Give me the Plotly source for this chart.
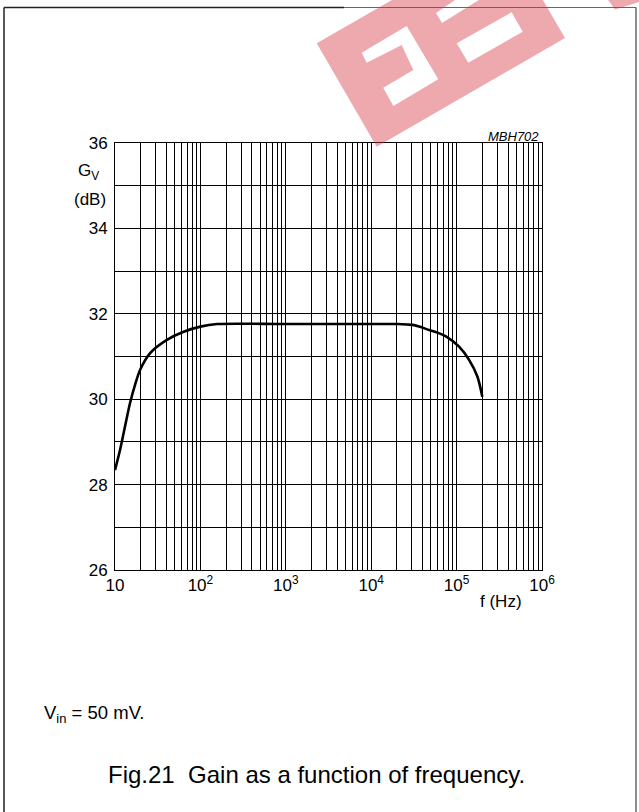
import plotly.graph_objects as go

# ---- data ----
freq_hz = [10, 11.45, 13.1, 15, 17.2, 19.7, 25.8, 40.5, 63.7, 100, 157, 1000,
           10000, 20000, 30500, 36600, 47900, 59800, 75000, 107000, 140000,
           175000, 200000]
gain_db = [28.34, 28.81, 29.36, 29.91, 30.34, 30.69, 31.08, 31.39, 31.58, 31.70,
           31.76, 31.76, 31.76, 31.76, 31.74, 31.70, 31.62, 31.56, 31.47, 31.23,
           30.92, 30.53, 30.06]

decades = [10, 100, 1000, 10000, 100000, 1000000]
decade_labels = ["10", "10<sup>2</sup>", "10<sup>3</sup>", "10<sup>4</sup>",
                 "10<sup>5</sup>", "10<sup>6</sup>"]
minor_digits = [1, 2, 3, 4, 5, 6, 7, 8, 9]
y_tick_vals = [26, 27, 28, 29, 30, 31, 32, 33, 34, 35, 36]
y_tick_text = ["26", "", "28", "", "30", "", "32", "", "34", "", "36"]

# build x tick grid (every digit of every decade) from the lists above
x_tick_vals, x_tick_text = [], []
for i, d in enumerate(decades[:-1]):
    for m in minor_digits:
        x_tick_vals.append(d * m)
        x_tick_text.append(decade_labels[i] if m == 1 else "")
x_tick_vals.append(decades[-1])
x_tick_text.append(decade_labels[-1])

# ---- layout geometry ----
W, H = 639, 812
L, R, T, B = 115, 97, 143, 242
PW, PH = W - L - R, H - T - B


def px(x):
    return (x - L) / PW


def py(y):
    return (H - B - y) / PH


FONT = "Liberation Sans, Arial, Helvetica, sans-serif"

fig = go.Figure()
fig.add_trace(go.Scatter(
    x=freq_hz, y=gain_db, mode="lines",
    line=dict(color="black", width=2.6, shape="spline", smoothing=0.8),
    hoverinfo="skip", showlegend=False,
))

axis_common = dict(
    showgrid=True, gridcolor="black", gridwidth=1,
    showline=True, linecolor="black", linewidth=1, mirror=True,
    ticks="", zeroline=False,
    tickfont=dict(family=FONT, size=17, color="black"),
)

fig.update_xaxes(type="log", range=[1, 6], tickmode="array",
                 tickvals=x_tick_vals, ticktext=x_tick_text, **axis_common)
fig.update_yaxes(range=[26, 36], tickmode="array",
                 tickvals=y_tick_vals, ticktext=y_tick_text,
                 ticklabelstandoff=3, **axis_common)

# ---- watermark (decorative) ----
def path_from(polys):
    s = ""
    for poly in polys:
        pts = [f"{px(x):.4f},{py(y):.4f}" for x, y in poly]
        s += "M " + " L ".join(pts) + " Z "
    return s

outer = [(316.7, 43.3), (505, -65), (565, 38), (376.7, 146.7)]
hole1 = list(reversed([(361.7, 52.7), (406.7, 26), (438.3, 79.3), (393.3, 106),
                       (383.3, 87.7), (413.3, 70), (401.7, 45), (366.7, 62.7)]))
hole2 = list(reversed([(456.7, 43.3), (511.7, 12.3), (522.7, 31.7), (468.3, 62.7)]))
hole3 = list(reversed([(436, 13), (458, -2), (482, -2), (442, 23)]))
piece = [(606, -3), (615, 9.5), (645, 0), (645, -3)]

shapes = [
    dict(type="path", xref="paper", yref="paper",
         path=path_from([outer, hole1, hole2, hole3]),
         fillcolor="rgba(214,50,65,0.42)", line=dict(width=0), layer="above"),
    dict(type="path", xref="paper", yref="paper", path=path_from([piece]),
         fillcolor="rgba(214,50,65,0.42)", line=dict(width=0), layer="above"),
    # frame
    dict(type="line", xref="paper", yref="paper", x0=px(4), x1=px(4),
         y0=py(7.5), y1=py(820), line=dict(color="#222", width=1.5), layer="below"),
    dict(type="line", xref="paper", yref="paper", x0=px(4), x1=px(344),
         y0=py(7.5), y1=py(7.5), line=dict(color="#222", width=1.5), layer="below"),
    dict(type="line", xref="paper", yref="paper", x0=px(344), x1=px(636),
         y0=py(7.5), y1=py(7.5), line=dict(color="#666", width=1.2), layer="below"),
    dict(type="line", xref="paper", yref="paper", x0=px(636), x1=px(636),
         y0=py(7.5), y1=py(820), line=dict(color="#444", width=1.2), layer="below"),
]

annotations = [
    dict(text="<i>MBH702</i>", x=px(541), y=py(136), xanchor="right", yanchor="middle",
         font=dict(family=FONT, size=13, color="black")),
    dict(text="G<sub>V</sub>", x=px(101), y=py(172), xanchor="right", yanchor="middle",
         font=dict(family=FONT, size=17, color="black")),
    dict(text="(dB)", x=px(108), y=py(199), xanchor="right", yanchor="middle",
         font=dict(family=FONT, size=17, color="black")),
    dict(text="f (Hz)", x=px(501), y=py(601), xanchor="center", yanchor="middle",
         font=dict(family=FONT, size=17, color="black")),
    dict(text="V<sub>in</sub> = 50 mV.", x=px(42), y=py(714), xanchor="left", yanchor="middle",
         font=dict(family=FONT, size=18.5, color="black")),
    dict(text="Fig.21  Gain as a function of frequency.", x=px(316), y=py(774),
         xanchor="center", yanchor="middle",
         font=dict(family=FONT, size=24, color="black")),
]
for a in annotations:
    a.update(xref="paper", yref="paper", showarrow=False)

fig.update_layout(
    width=W, height=H, autosize=False,
    margin=dict(l=L, r=R, t=T, b=B, pad=0),
    paper_bgcolor="white", plot_bgcolor="white",
    shapes=shapes, annotations=annotations,
    font=dict(family=FONT, color="black"),
    showlegend=False,
)

fig.write_html(
    "out.html",
    config={"displayModeBar": False},
    post_script="document.body.style.margin='0';document.body.style.overflow='hidden';",
)
